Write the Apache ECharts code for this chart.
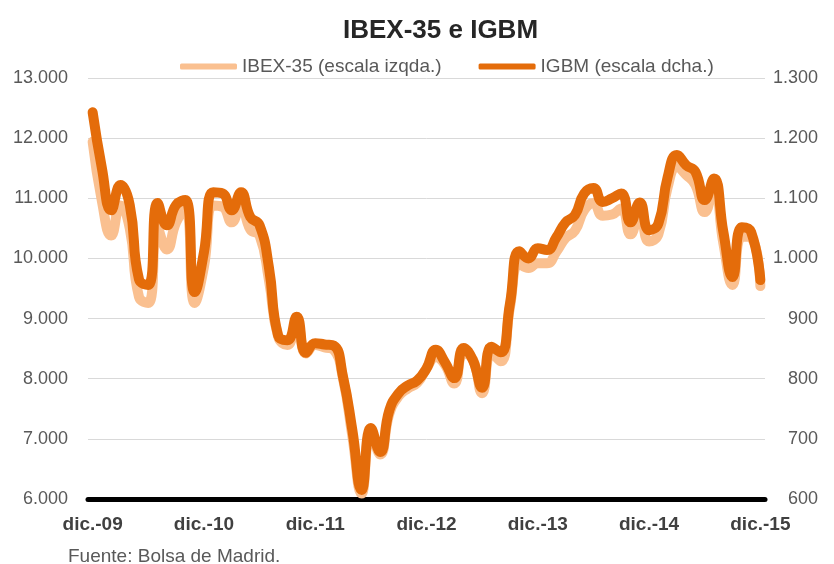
<!DOCTYPE html>
<html><head><meta charset="utf-8">
<script src="https://cdn.jsdelivr.net/npm/echarts@6/dist/echarts.min.js"></script>
<style>html,body{margin:0;padding:0;background:#fff}#c{width:834px;height:564px}</style>
</head><body><div id="c"></div>
<script>
const categories = [
  'dic.-09',
  'ene.-10','feb.-10','mar.-10','abr.-10','may.-10','jun.-10','jul.-10','ago.-10','sep.-10','oct.-10','nov.-10','dic.-10',
  'ene.-11','feb.-11','mar.-11','abr.-11','may.-11','jun.-11','jul.-11','ago.-11','sep.-11','oct.-11','nov.-11','dic.-11',
  'ene.-12','feb.-12','mar.-12','abr.-12','may.-12','jun.-12','jul.-12','ago.-12','sep.-12','oct.-12','nov.-12','dic.-12',
  'ene.-13','feb.-13','mar.-13','abr.-13','may.-13','jun.-13','jul.-13','ago.-13','sep.-13','oct.-13','nov.-13','dic.-13',
  'ene.-14','feb.-14','mar.-14','abr.-14','may.-14','jun.-14','jul.-14','ago.-14','sep.-14','oct.-14','nov.-14','dic.-14',
  'ene.-15','feb.-15','mar.-15','abr.-15','may.-15','jun.-15','jul.-15','ago.-15','sep.-15','oct.-15','nov.-15','dic.-15'
];
// IBEX-35, left axis
const ibex35 = [
  11940,
  10950, 10380, 10880, 10500, 9360, 9260, 10500, 10150, 10600, 10820, 9260, 9860,
  10880, 10860, 10600, 10900, 10480, 10380, 9650, 8700, 8560, 8950, 8420, 8560,
  8520, 8480, 8000, 7050, 6090, 7110, 6740, 7420, 7710, 7840, 7930, 8170,
  8360, 8230, 7920, 8420, 8320, 7760, 8430, 8290, 9190, 9910, 9840, 9920,
  9920, 10110, 10340, 10460, 10800, 10920, 10710, 10730, 10830, 10400, 10770, 10280,
  10400, 11180, 11520, 11390, 11220, 10770, 11180, 10260, 9560, 10360, 10340, 9540
];
// IGBM, right axis
const igbm = [
  1243,
  1150, 1080, 1122, 1089, 965, 956, 1092, 1055, 1089, 1097, 944, 1010,
  1110, 1108, 1080, 1110, 1069, 1055, 986, 872, 864, 903, 843, 859,
  857, 855, 803, 715, 615, 718, 678, 748, 776, 789, 797, 817,
  848, 827, 801, 851, 831, 785, 853, 844, 925, 1012, 1000, 1017,
  1014, 1035, 1060, 1072, 1108, 1117, 1094, 1100, 1108, 1060, 1093, 1047,
  1058, 1135, 1172, 1155, 1144, 1097, 1133, 1045, 969, 1052, 1044, 964
];
const leftAxis = { min: 6000, max: 13000, step: 1000 };
const rightAxis = { min: 600, max: 1300, step: 100 };
const seriesNames = ['IBEX-35 (escala izqda.)', 'IGBM (escala dcha.)'];
const colors = ['#FAC090', '#E46C0A'];

function fmt(v) { return String(v).replace(/\B(?=(\d{3})+(?!\d))/g, '.'); }

const FONT = "'Liberation Sans', Arial, sans-serif";
const chart = echarts.init(document.getElementById('c'), null, { renderer: 'canvas' });
chart.setOption({
  animation: false,
  backgroundColor: '#fff',
  textStyle: { fontFamily: FONT },
  title: {
    text: 'IBEX-35 e IGBM', left: 338, top: 13,
    textStyle: { fontFamily: FONT, fontSize: 26, fontWeight: 'bold', color: '#262626' }
  },
  legend: {
    top: 52, left: 175, itemWidth: 57, itemHeight: 6, itemGap: 37,
    icon: 'roundRect',
    textStyle: { fontFamily: FONT, fontSize: 19, color: '#595959' },
    data: seriesNames
  },
  grid: { left: 88, right: 69, top: 78, bottom: 65 },
  xAxis: {
    type: 'category', data: categories, boundaryGap: true,
    axisLine: { lineStyle: { color: '#000', width: 5 } },
    axisTick: { show: false },
    axisLabel: { interval: 11, margin: 16, fontFamily: FONT, fontWeight: 'bold', fontSize: 19, color: '#404040' },
    splitLine: { show: false }
  },
  yAxis: [
    {
      type: 'value', position: 'left', min: leftAxis.min, max: leftAxis.max, interval: leftAxis.step,
      axisLine: { show: false }, axisTick: { show: false },
      axisLabel: { formatter: fmt, margin: 20, fontFamily: FONT, fontSize: 18, color: '#595959' },
      splitLine: { lineStyle: { color: '#d9d9d9', width: 1 } }
    },
    {
      type: 'value', position: 'right', min: rightAxis.min, max: rightAxis.max, interval: rightAxis.step,
      axisLine: { show: false }, axisTick: { show: false },
      axisLabel: { formatter: fmt, margin: 53, align: 'right', fontFamily: FONT, fontSize: 18, color: '#595959' },
      splitLine: { show: false }
    }
  ],
  series: [
    {
      name: seriesNames[0], type: 'line', yAxisIndex: 0, data: ibex35,
      smooth: 0.5, symbol: 'none', z: 2,
      lineStyle: { width: 10, color: colors[0], cap: 'round', join: 'round' },
      itemStyle: { color: colors[0] }
    },
    {
      name: seriesNames[1], type: 'line', yAxisIndex: 1, data: igbm,
      smooth: 0.5, symbol: 'none', z: 3,
      lineStyle: { width: 10, color: colors[1], cap: 'round', join: 'round' },
      itemStyle: { color: colors[1] }
    }
  ],
  graphic: [
    {
      type: 'text', left: 68, top: 547,
      style: { text: 'Fuente: Bolsa de Madrid.', font: "19px 'Liberation Sans', Arial, sans-serif", fill: '#595959' }
    }
  ]
});
</script>
</body></html>
